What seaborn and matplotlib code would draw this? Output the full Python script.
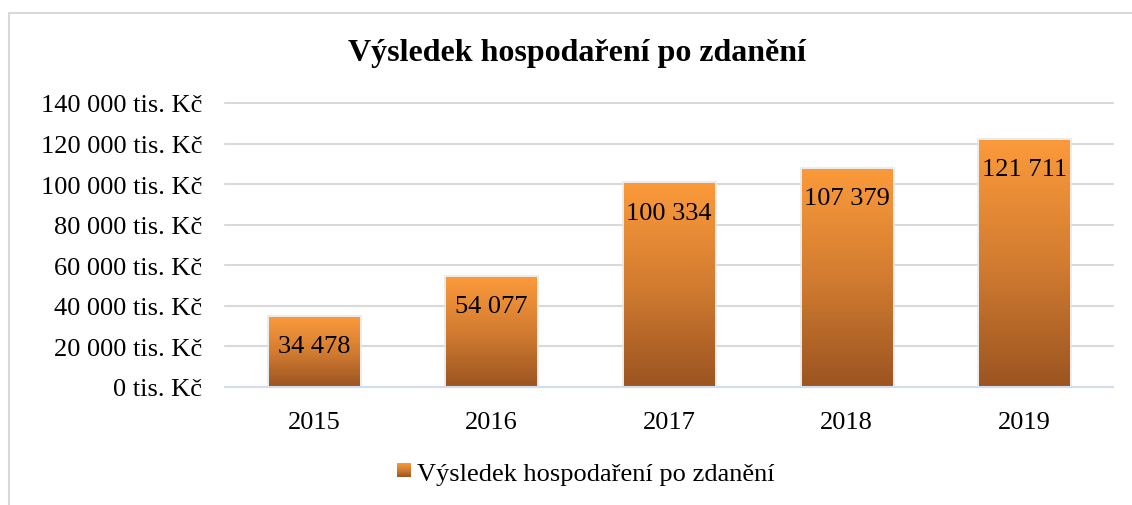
import numpy as np
import pandas as pd
import matplotlib
matplotlib.use("Agg")
import matplotlib.pyplot as plt
import seaborn as sns
from matplotlib.colors import LinearSegmentedColormap
from matplotlib.patches import Rectangle
from matplotlib.legend_handler import HandlerBase
from matplotlib.image import BboxImage
from matplotlib.transforms import Bbox, TransformedBbox
import matplotlib.patheffects as pe

# ---- data ----
years = ["2015", "2016", "2017", "2018", "2019"]
values = [34478, 54077, 100334, 107379, 121711]
series_name = "Výsledek hospodaření po zdanění"
title = "Výsledek hospodaření po zdanění"
yticks = [0, 20000, 40000, 60000, 80000, 100000, 120000, 140000]

sns.set_theme(style="white")
plt.rcParams['font.family'] = ['Liberation Serif', 'DejaVu Serif']
plt.rcParams['grid.color'] = "#D9D9D9"
plt.rcParams['text.color'] = "#000000"

cmap = LinearSegmentedColormap.from_list(
    "bargrad", [(0.0, "#9B5421"), (0.5, "#D27C31"), (1.0, "#FB9A3B")])
grad = np.linspace(1, 0, 256).reshape(-1, 1)

W, H = 1132, 506
fig = plt.figure(figsize=(W / 100, H / 100), dpi=100)
ax = fig.add_axes([225 / W, 1 - 388 / H, (1113 - 225) / W, (388 - 104) / H])

df = pd.DataFrame({"year": years, "value": values})
sns.barplot(data=df, x="year", y="value", color="#E08838", width=0.507,
            ax=ax, saturation=1, zorder=3)

for p in ax.patches:
    p.set_path_effects([pe.Stroke(linewidth=3.5, foreground="#E6E6E6", alpha=0.8), pe.Normal()])
    p.set_edgecolor("none")
    x0, w, h = p.get_x(), p.get_width(), p.get_height()
    ax.imshow(grad, extent=[x0, x0 + w, 0, h], aspect="auto", cmap=cmap,
              vmin=0, vmax=1, zorder=4, interpolation="bilinear")
    ax.annotate(f"{int(round(h)):,}".replace(",", " "),
                xy=(x0 + w / 2, h), xytext=(0, -21), textcoords="offset points",
                ha="center", va="center", fontsize=19, color="#000000", zorder=6)

ax.set_xlim(-0.5, 4.5)
ax.set_ylim(0, 140000)
ax.set_yticks(yticks)
ax.set_yticklabels([f"{v:,}".replace(",", " ") + " tis. Kč" for v in yticks])
ax.set_xlabel("")
ax.set_ylabel("")
ax.tick_params(axis="y", length=0, pad=16.5, labelsize=19, labelcolor="#000000")
ax.tick_params(axis="x", length=0, pad=17, labelsize=19, labelcolor="#000000")
for s in ["top", "right", "left"]:
    ax.spines[s].set_visible(False)
ax.spines["bottom"].set_color("#D3DDEE")
ax.spines["bottom"].set_linewidth(1.5)
ax.spines["bottom"].set_zorder(5)
ax.yaxis.grid(True, color="#D9D9D9", linewidth=1.5, zorder=0)
ax.set_axisbelow(True)
for line in ax.get_ygridlines():
    line.set_clip_on(False)

# outer frame (partially cropped in reference)
fig.patches.append(Rectangle((8.5 / W, -0.1), 1.2, 1 - 13.5 / H + 0.1,
                             transform=fig.transFigure, fill=False,
                             edgecolor="#D9D9D9", linewidth=1.5))

fig.text(577 / W, 1 - 53 / H, title, ha="center", va="center",
         fontsize=23, fontweight="bold", color="#000000")


class GradHandler(HandlerBase):
    def create_artists(self, legend, orig_handle, xdescent, ydescent,
                       width, height, fontsize, trans):
        s = 10
        x0 = -xdescent + (width - s) / 2
        y0 = -ydescent + (height - s) / 2
        bb = TransformedBbox(Bbox.from_bounds(x0, y0, s, s), trans)
        img = BboxImage(bb, cmap=cmap, norm=plt.Normalize(0, 1),
                        interpolation="bilinear")
        img.set_data(grad)
        return [img]


proxy = Rectangle((0, 0), 1, 1)
fig.legend([proxy], [series_name], loc="center", bbox_to_anchor=(585 / W, 1 - 474 / H),
           frameon=False, fontsize=19, handler_map={Rectangle: GradHandler()},
           handlelength=0.6, handletextpad=0.2, borderpad=0, labelcolor="#000000")

fig.savefig("out.png", dpi=100, facecolor="white")
